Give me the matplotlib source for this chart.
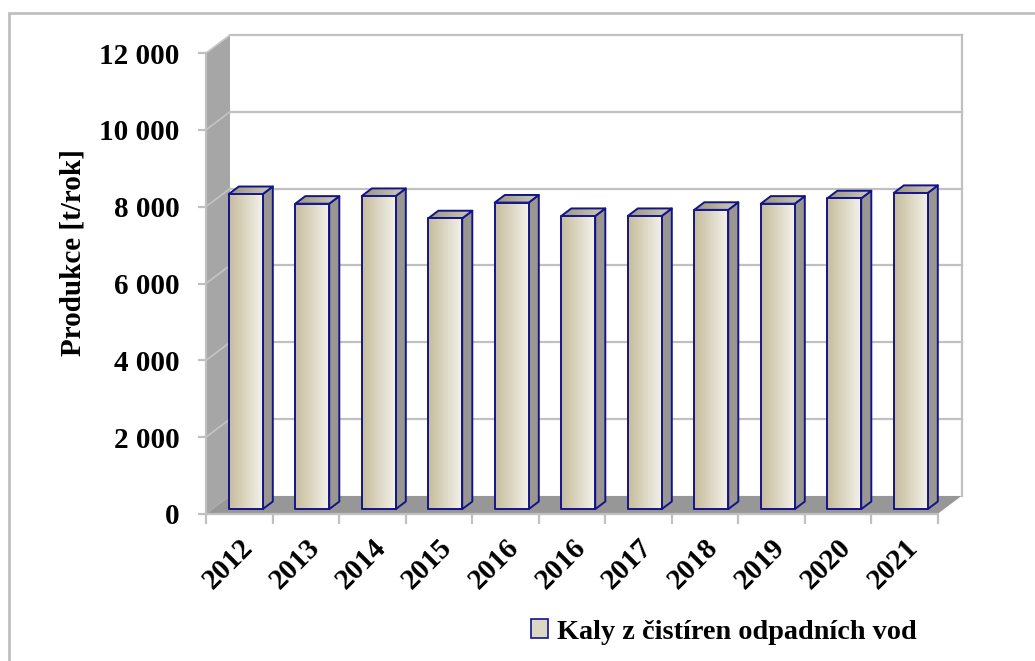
import numpy as np
import matplotlib.pyplot as plt
from matplotlib.patches import Polygon, Rectangle, Patch
from matplotlib.colors import LinearSegmentedColormap

# ── Data ──────────────────────────────────────────────────────────────────────
years  = ["2012", "2013", "2014", "2015", "2016", "2016",
          "2017", "2018", "2019", "2020", "2021"]
values = [8200, 7950, 8150, 7570, 7980, 7630,
          7630, 7790, 7950, 8090, 8230]
yticks = [0, 2000, 4000, 6000, 8000, 10000, 12000]
ytick_labels = ["0", "2 000", "4 000", "6 000", "8 000", "10 000", "12 000"]
series_name = "Kaly z čistíren odpadních vod"

# ── Pseudo 3D geometry (data units) ──────────────────────────────────────────
DX, DY = 0.361, 470          # full depth of the plot box
F0, FD = 0.27, 0.42          # bar front depth fraction, bar depth fraction
BW = 0.511                   # bar width
YMAX = 12000
n = len(years)
x0, x1 = -0.5, n - 0.5

plt.rcParams["font.family"] = ["Liberation Serif", "DejaVu Serif"]
plt.rcParams["font.weight"] = "bold"
FS = 21

fig = plt.figure(figsize=(10.35, 6.61), dpi=100)
ax = fig.add_axes([206 / 1035, 1 - 514 / 661, 731.5 / 1035, 461 / 661])
ax.set_xlim(x0, x1)
ax.set_ylim(0, YMAX)

GRID = "#c0c0c0"
WALL = "#a6a6a6"
FLOOR = "#979797"
NAVY = "#14148a"

# back wall + gridlines
ax.add_patch(Rectangle((x0 + DX, DY), x1 - x0, YMAX, fc="white", ec="none",
                       clip_on=False, zorder=0))
for v in yticks[1:]:
    ax.plot([x0 + DX, x1 + DX], [v + DY, v + DY], color=GRID, lw=1.6,
            clip_on=False, zorder=1)
ax.plot([x1 + DX, x1 + DX], [DY, YMAX + DY], color=GRID, lw=1.6,
        clip_on=False, zorder=1)

# left side wall
ax.add_patch(Polygon([(x0, 0), (x0 + DX, DY), (x0 + DX, YMAX + DY), (x0, YMAX)],
                     closed=True, fc=WALL, ec="none", clip_on=False, zorder=1))
for v in yticks[1:-1]:
    ax.plot([x0, x0 + DX], [v, v + DY], color="#c4c4c4", lw=1.2,
            clip_on=False, zorder=1.5)
ax.plot([x0, x0 + DX], [YMAX, YMAX + DY], color="#c8c8c8", lw=1.2,
        clip_on=False, zorder=1.5)

# floor
ax.add_patch(Polygon([(x0, 0), (x1, 0), (x1 + DX, DY), (x0 + DX, DY)],
                     closed=True, fc=FLOOR, ec="none", clip_on=False, zorder=2))

front_cmap = LinearSegmentedColormap.from_list("front", ["#c6bd9c", "#f3f1ea"])
top_cmap = LinearSegmentedColormap.from_list("top", ["#9a957f", "#d0ccbd"])
grad = np.linspace(0, 1, 64).reshape(1, -1)

# bars
for i, v in enumerate(values):
    fx = i + F0 * DX - BW / 2
    fy = F0 * DY
    ddx, ddy = FD * DX, FD * DY
    # side face
    side = Polygon([(fx + BW, fy), (fx + BW + ddx, fy + ddy),
                    (fx + BW + ddx, fy + v + ddy), (fx + BW, fy + v)],
                   closed=True, fc="#9a9690", ec=NAVY, lw=1.4,
                   clip_on=False, zorder=3, joinstyle="round")
    ax.add_patch(side)
    # top face
    top = Polygon([(fx, fy + v), (fx + BW, fy + v), (fx + BW + ddx, fy + v + ddy),
                   (fx + ddx, fy + v + ddy)], closed=True, fc="none", ec=NAVY,
                  lw=1.4, clip_on=False, zorder=4.5, joinstyle="round")
    ax.add_patch(top)
    im = ax.imshow(grad, cmap=top_cmap, aspect="auto", interpolation="bilinear",
                   extent=(fx, fx + BW + ddx, fy + v, fy + v + ddy), zorder=4)
    im.set_clip_path(top)
    # front face
    ax.imshow(grad, cmap=front_cmap, aspect="auto", interpolation="bilinear",
              extent=(fx, fx + BW, fy, fy + v), zorder=5)
    ax.add_patch(Rectangle((fx, fy), BW, v, fc="none", ec=NAVY, lw=1.4,
                           clip_on=False, zorder=6, joinstyle="round"))

ax.set_xlim(x0, x1)
ax.set_ylim(0, YMAX)

# axes lines
ax.plot([x0, x1], [0, 0], color=GRID, lw=1.6, clip_on=False, zorder=2.5)
ax.plot([x0, x0], [0, YMAX], color=GRID, lw=1.6, clip_on=False, zorder=2.5)
for s in ax.spines.values():
    s.set_visible(False)
ax.patch.set_visible(False)

ax.set_yticks(yticks)
ax.set_yticklabels(ytick_labels, fontsize=FS, fontweight="bold")
ax.tick_params(axis="y", length=6, width=1.6, color=GRID, pad=13)

ax.set_xticks(range(n))
ax.set_xticklabels(years, fontsize=FS, fontweight="bold", rotation=45,
                   ha="right", rotation_mode="anchor")
ax.set_xticks(np.arange(n + 1) - 0.5, minor=True)
ax.tick_params(axis="x", which="major", length=0, pad=14)
ax.tick_params(axis="x", which="minor", length=7, width=1.6, color=GRID)

ax.set_ylabel("Produkce [t/rok]", fontsize=FS, fontweight="bold")
ax.yaxis.set_label_coords(-0.164, 0.568)

# legend
fig.legend([Patch(fc="#dcd7c3", ec=NAVY, lw=1.2)], [series_name],
           loc="center left", bbox_to_anchor=(531 / 1035, 1 - 632 / 661),
           frameon=False, handlelength=0.62, handleheight=0.62,
           handletextpad=0.3, borderpad=0, borderaxespad=0,
           prop={"family": "Liberation Serif", "weight": "bold", "size": 20.3})

# outer frame
fig.add_artist(Rectangle((9 / 1035, -0.1), 1.2, (661 - 13) / 661 + 0.1,
                         transform=fig.transFigure, fill=False,
                         ec="#c0c0c0", lw=2))

fig.savefig("out.png", dpi=100)
